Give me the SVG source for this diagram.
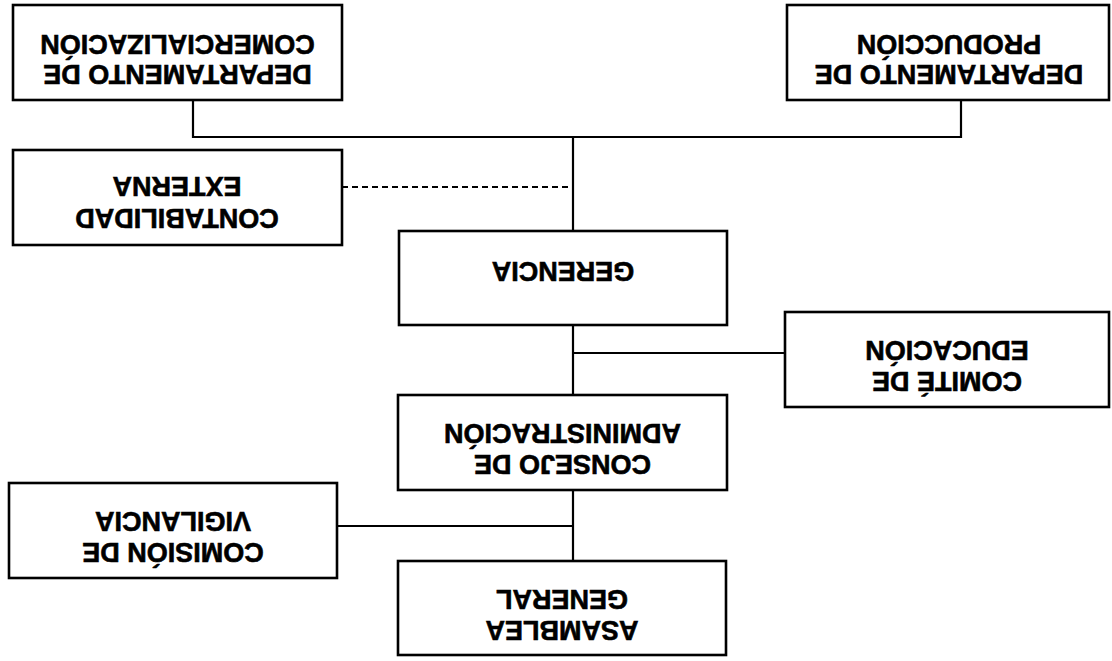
<svg xmlns="http://www.w3.org/2000/svg" width="1112" height="661" viewBox="0 0 1112 661">
<style>
.box{fill:#fff;stroke:#000;stroke-width:2.6}
.ln{fill:none;stroke:#000;stroke-width:2.2}
.dash{stroke-dasharray:6 4}
text{font-family:"Liberation Sans",Arial,sans-serif;font-weight:bold;font-size:27px;fill:#000;stroke:#000;stroke-width:0.6;text-anchor:middle}
</style>
<rect width="1112" height="661" fill="#fff"/>
<g id="connectors">
<path class="ln" d="M193 100 V137 H961 V100"/>
<path class="ln" d="M573 137 V231"/>
<path class="ln dash" d="M342 187 H573"/>
<path class="ln" d="M573 325 V395 M573 353 H785"/>
<path class="ln" d="M573 490 V561 M337 526 H573"/>
</g>
<g id="comercializacion">
<rect class="box" x="13" y="5" width="329" height="95"/>
<text x="177.5" y="54.7" transform="rotate(180 177.5 45)">COMERCIALIZACIÓN</text>
<text x="177.5" y="84.7" transform="rotate(180 177.5 75)">DEPARTAMENTO DE</text>
</g>
<g id="produccion">
<rect class="box" x="787" y="5" width="322" height="95"/>
<text x="949" y="54.7" transform="rotate(180 949 45)">PRODUCCIÓN</text>
<text x="949" y="84.7" transform="rotate(180 949 75)">DEPARTAMENTO DE</text>
</g>
<g id="contabilidad">
<rect class="box" x="13" y="150" width="329" height="95"/>
<text x="177" y="196.7" transform="rotate(180 177 187)">EXTERNA</text>
<text x="177" y="228.7" transform="rotate(180 177 219)">CONTABILIDAD</text>
</g>
<g id="gerencia">
<rect class="box" x="399" y="231" width="328" height="94"/>
<text x="563" y="281.7" transform="rotate(180 563 272)">GERENCIA</text>
</g>
<g id="comite">
<rect class="box" x="785" y="312" width="324" height="95"/>
<text x="947" y="360.7" transform="rotate(180 947 351)">EDUCACIÓN</text>
<text x="947" y="391.7" transform="rotate(180 947 382)">COMITÉ DE</text>
</g>
<g id="consejo">
<rect class="box" x="398" y="395" width="329" height="95"/>
<text x="562.5" y="443.7" transform="rotate(180 562.5 434)">ADMINISTRACIÓN</text>
<text x="562.5" y="474.7" transform="rotate(180 562.5 465)">CONSEJO DE</text>
</g>
<g id="vigilancia">
<rect class="box" x="9" y="483" width="328" height="95"/>
<text x="173" y="531.7" transform="rotate(180 173 522)">VIGILANCIA</text>
<text x="173" y="562.7" transform="rotate(180 173 553)">COMISIÓN DE</text>
</g>
<g id="asamblea">
<rect class="box" x="398" y="561" width="328" height="94"/>
<text x="562" y="609.7" transform="rotate(180 562 600)">GENERAL</text>
<text x="562" y="640.7" transform="rotate(180 562 631)">ASAMBLEA</text>
</g>
</svg>
